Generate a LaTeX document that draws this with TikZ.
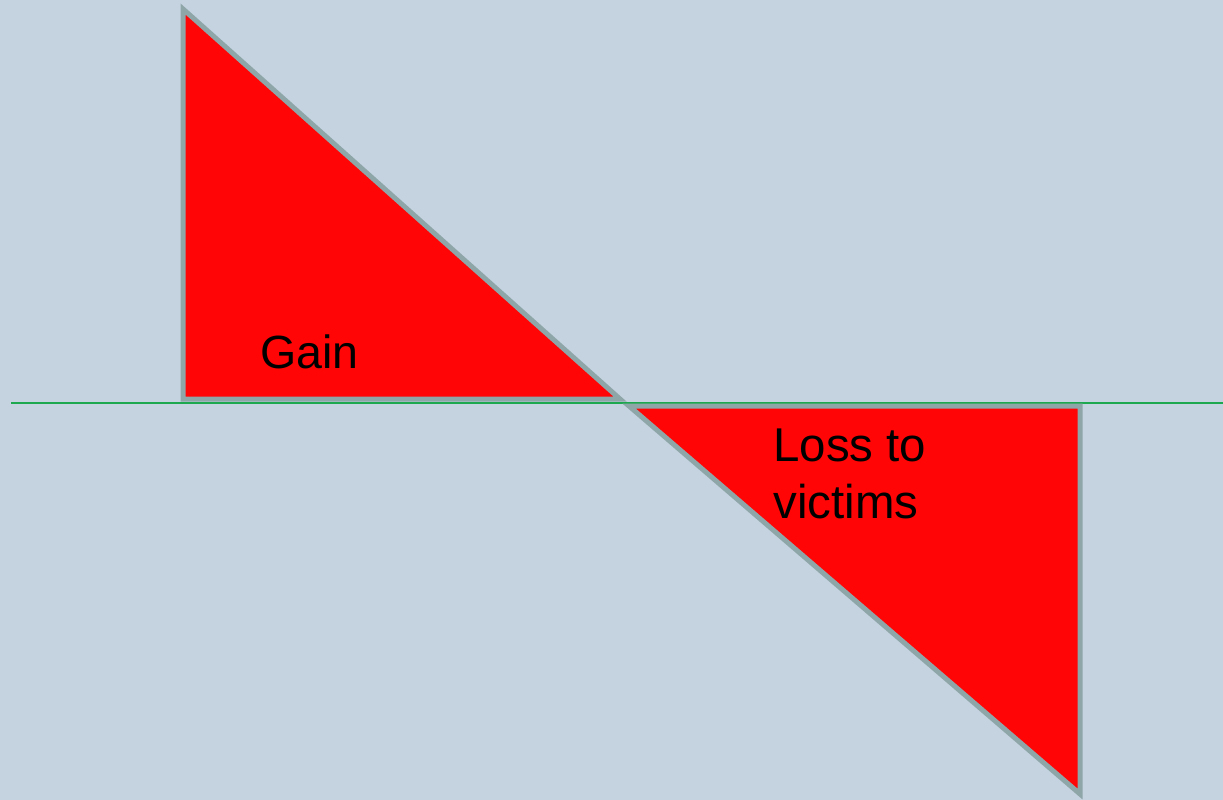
\documentclass[tikz,border=0pt]{standalone}
\usepackage{fontspec}
\setmainfont{Liberation Sans}
\usetikzlibrary{positioning}
\definecolor{bgblue}{HTML}{C5D3E0}
\definecolor{edgegray}{HTML}{8FA6A9}
\definecolor{axisgreen}{HTML}{1DA84F}
\definecolor{fillred}{HTML}{FF0505}

\begin{document}
\begin{tikzpicture}[x=0.02cm,y=-0.02cm,
    tri/.style={fill=fillred,draw=edgegray,line width=0.1cm,line join=miter},
    lbl/.style={inner sep=0pt,text=black}]
  \fill[bgblue] (0,0) rectangle (1223,800);
  \useasboundingbox (0,0) rectangle (1223,800);
  % baseline
  \coordinate (left) at (11,403);
  \coordinate (right) at (1223,403);
  \draw[axisgreen,line width=0.04cm] (left) -- (right);
  % gain triangle
  \coordinate (g1) at (183,9);
  \coordinate (g2) at (183,399);
  \coordinate (g3) at (620,399);
  \draw[tri] (g1) -- (g2) -- (g3) -- cycle;
  % loss triangle
  \coordinate (l1) at (629,406);
  \coordinate (l2) at (1080,406);
  \coordinate (l3) at (1080,794);
  \draw[tri] (l1) -- (l2) -- (l3) -- cycle;
  \node[lbl,anchor=base west,font=\fontsize{26.5}{31}\selectfont] (gain) at (260,368) {Gain};
  \node[lbl,anchor=north west,align=left,font=\fontsize{27}{32}\selectfont] (loss) at (773,429) {Loss to\\victims};
\end{tikzpicture}
\end{document}
